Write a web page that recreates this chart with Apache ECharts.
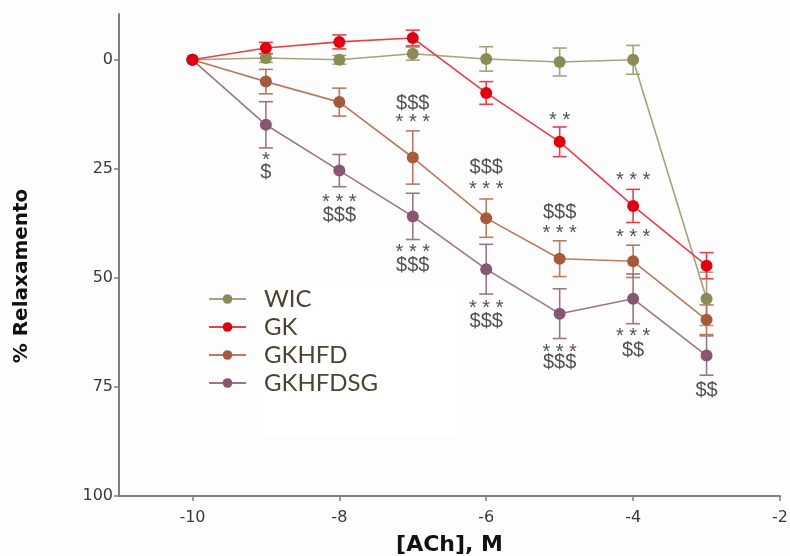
<!DOCTYPE html>
<html>
<head>
<meta charset="utf-8">
<script src="https://cdn.jsdelivr.net/npm/echarts@6/dist/echarts.min.js"></script>
<style>
  html, body { margin: 0; padding: 0; background: #fdfdfd; }
  #chart { width: 790px; height: 556px; }
</style>
</head>
<body>
<div id="chart"></div>
<script>
// log [ACh] doses
const doses = [-10, -9, -8, -7, -6, -5, -4, -3];

// % relaxation (mean) and error
const wic = [0, -0.4, 0, -1.4, -0.2, 0.5, 0, 54.8];
const wicErr = [0, 1, 1, 1.5, 2.8, 3.2, 3.3, 6.1];
const gk = [0, -2.7, -4.1, -5, 7.6, 18.8, 33.5, 47.2];
const gkErr = [0, 1.3, 1.6, 1.8, 2.6, 3.4, 3.8, 3];
const gkhfd = [0, 5, 9.7, 22.4, 36.3, 45.6, 46.2, 59.6];
const gkhfdErr = [0, 2.8, 3.2, 6.1, 4.4, 4.1, 3.7, 3.4];
const gkhfdsg = [0, 14.9, 25.4, 35.9, 48, 58.2, 54.8, 67.8];
const gkhfdsgErr = [0, 5.3, 3.7, 5.3, 5.7, 5.7, 5.7, 4.5];

const xTicks = [-10, -8, -6, -4, -2];
const yTicks = [0, 25, 50, 75, 100];

// significance marks: [dose, y, text]
const marks = [
  [-9, 22.2, "*"], [-9, 25.9, "$"],
  [-8, 31.7, "***"], [-8, 35.6, "$$$"],
  [-7, 9.9, "$$$"], [-7, 13.5, "***"], [-7, 43.3, "***"], [-7, 47.2, "$$$"],
  [-6, 24.8, "$$$"], [-6, 28.9, "***"], [-6, 56.2, "***"], [-6, 60.1, "$$$"],
  [-5, 13.1, "**"], [-5, 34.9, "$$$"], [-5, 38.8, "***"], [-5, 66.1, "***"], [-5, 69.5, "$$$"],
  [-4, 26.8, "***"], [-4, 39.9, "***"], [-4, 62.6, "***"], [-4, 66.7, "$$"],
  [-3, 75.9, "$$"]
];

const colors = {
  WIC: "#8b8b58",
  GK: "#e0000f",
  GKHFD: "#a65a3b",
  GKHFDSG: "#875670"
};
const barColors = {
  WIC: "#a3a37a",
  GK: "#e8404a",
  GKHFD: "#b97a5e",
  GKHFDSG: "#9d7488"
};

function lineSeries(name, vals, z) {
  return {
    name: name,
    type: "line",
    z: z,
    data: doses.map((d, i) => [d, vals[i]]),
    symbol: "circle",
    symbolSize: 12,
    itemStyle: { color: colors[name] },
    lineStyle: { width: 1.6, color: barColors[name] }
  };
}

function errorBars(name, vals, errs) {
  return {
    type: "custom",
    name: name + "-err",
    z: 1,
    silent: true,
    data: doses.map((d, i) => [d, vals[i] - errs[i], vals[i] + errs[i]]),
    renderItem: function (params, api) {
      if (api.value(1) === api.value(2)) return null;
      const lo = api.coord([api.value(0), api.value(1)]);
      const hi = api.coord([api.value(0), api.value(2)]);
      const w = 7;
      const style = { stroke: barColors[name], lineWidth: 1.6, fill: null };
      return {
        type: "group",
        children: [
          { type: "line", shape: { x1: lo[0], y1: lo[1], x2: hi[0], y2: hi[1] }, style: style },
          { type: "line", shape: { x1: lo[0] - w, y1: lo[1], x2: lo[0] + w, y2: lo[1] }, style: style },
          { type: "line", shape: { x1: hi[0] - w, y1: hi[1], x2: hi[0] + w, y2: hi[1] }, style: style }
        ]
      };
    }
  };
}

const markSeries = {
  type: "scatter",
  z: 5,
  silent: true,
  symbolSize: 0,
  data: marks.map(m => {
    const star = m[2].charAt(0) === "*";
    return {
      value: [m[0], m[1]],
      label: {
        show: true,
        position: "inside",
        formatter: star ? m[2].split("").join(" ") : m[2],
        fontFamily: "Liberation Sans",
        fontSize: star ? 20 : 20,
        color: "#262626",
        offset: star ? [0, 4] : [0, 0]
      }
    };
  })
};

const axisColor = "#7d7a94";

const option = {
  backgroundColor: "#fdfdfd",
  animation: false,
  grid: { left: 119, right: 10, top: 14, bottom: 60, outerBoundsMode: "none" },
  graphic: [
    {
      type: "rect",
      z: -1,
      shape: { x: 258, y: 286, width: 200, height: 150 },
      style: { fill: "#ffffff" }
    },
    {
      type: "text",
      x: 22,
      y: 276,
      rotation: Math.PI / 2,
      style: {
        text: "% Relaxamento",
        fontFamily: "DejaVu Sans",
        fontWeight: "bold",
        fontSize: 20,
        fill: "#111",
        align: "center",
        verticalAlign: "middle"
      }
    }
  ],
  legend: {
    data: ["WIC", "GK", "GKHFD", "GKHFDSG"],
    orient: "vertical",
    left: 203,
    top: 282,
    itemWidth: 37,
    itemHeight: 12,
    itemGap: 4,
    textStyle: {
      fontFamily: "Lato",
      fontSize: 24,
      lineHeight: 24,
      color: "#4a4430",
      padding: [0, 0, 0, 13]
    }
  },
  xAxis: {
    type: "value",
    min: -11,
    max: -2,
    name: "[ACh], M",
    nameLocation: "middle",
    nameGap: 38,
    nameTextStyle: { fontFamily: "DejaVu Sans", fontWeight: "bold", fontSize: 22, color: "#111" },
    axisLine: { onZero: false, lineStyle: { color: axisColor, width: 2 } },
    axisTick: { show: true, customValues: xTicks, length: 5, lineStyle: { color: axisColor, width: 1.5 } },
    axisLabel: { customValues: xTicks, margin: 14, fontFamily: "DejaVu Sans", fontSize: 16, color: "#3a3a3a" },
    splitLine: { show: false }
  },
  yAxis: {
    type: "value",
    inverse: true,
    min: -10.5,
    max: 100,
    axisLine: { show: true, onZero: false, lineStyle: { color: axisColor, width: 2 } },
    axisTick: { show: true, customValues: yTicks, length: 5, lineStyle: { color: axisColor, width: 1.5 } },
    axisLabel: { customValues: yTicks, margin: 6, fontFamily: "DejaVu Sans", fontSize: 16, color: "#3a3a3a" },
    splitLine: { show: false }
  },
  series: [
    errorBars("WIC", wic, wicErr),
    errorBars("GKHFD", gkhfd, gkhfdErr),
    errorBars("GKHFDSG", gkhfdsg, gkhfdsgErr),
    errorBars("GK", gk, gkErr),
    lineSeries("WIC", wic, 2),
    lineSeries("GKHFD", gkhfd, 2),
    lineSeries("GKHFDSG", gkhfdsg, 2),
    lineSeries("GK", gk, 3),
    markSeries
  ]
};

const chart = echarts.init(document.getElementById("chart"));
chart.setOption(option);
</script>
</body>
</html>
